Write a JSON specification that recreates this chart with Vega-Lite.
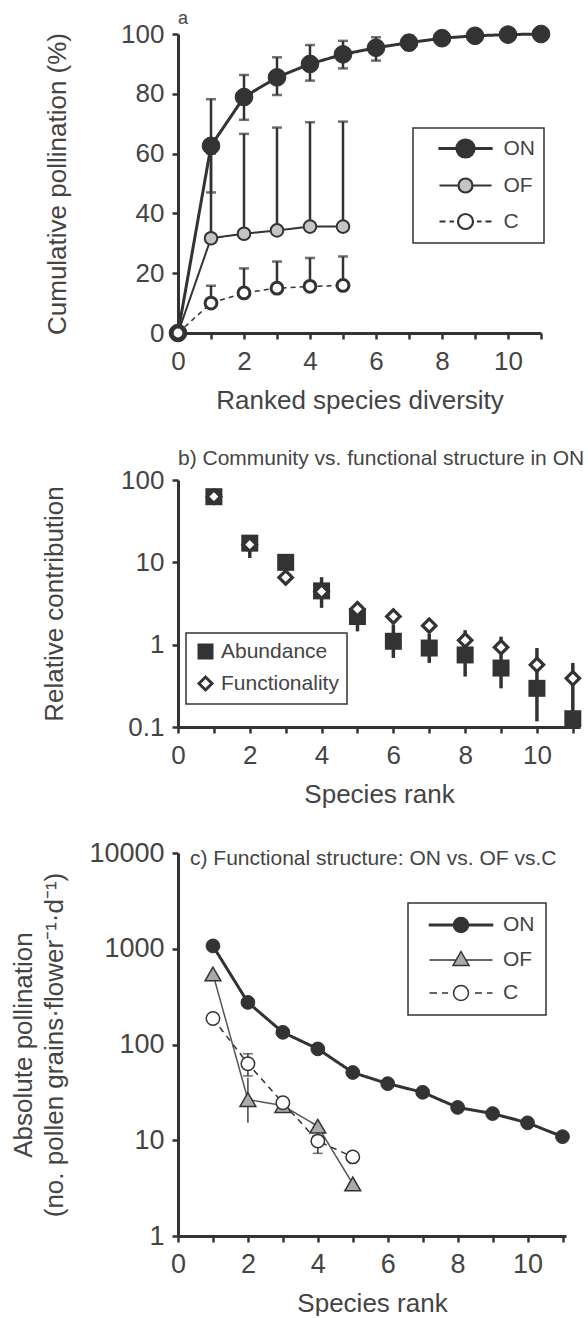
{
  "$schema": "https://vega.github.io/schema/vega-lite/v6.json",
  "padding": {"left": 10, "top": 10, "right": 0, "bottom": 0},
  "spacing": 32,
  "resolve": {"scale": {"fill": "independent", "shape": "independent"}, "legend": {"fill": "independent", "shape": "independent"}},
  "config": {
    "font": "Liberation Sans",
    "view": {"stroke": null},
    "axis": {"grid": false, "domainColor": "#333", "domainWidth": 3, "tickColor": "#333", "tickWidth": 2.5, "tickSize": 6, "labelColor": "#444", "titleColor": "#444", "labelFont": "Liberation Sans", "titleFont": "Liberation Sans", "titleFontWeight": "normal", "labelFontSize": 26, "titleFontSize": 26, "labelPadding": 8},
    "legend": {"labelFont": "Liberation Sans", "labelFontSize": 21, "labelColor": "#444", "strokeColor": "#333", "strokeWidth": 1.5, "fillColor": "white", "symbolOpacity": 1},
    "title": {"font": "Liberation Sans", "fontWeight": "normal", "color": "#444", "anchor": "start", "frame": "group", "baseline": "alphabetic"}
  },
  "vconcat": [
    {
      "width": 363,
      "height": 299,
      "title": {"text": "a", "fontSize": 18, "offset": -7},
      "data": {"values": [
        {"s": "ON", "x": 0, "v": 0},
        {"s": "ON", "x": 1, "v": 62.6, "lo": 47, "hi": 78.2},
        {"s": "ON", "x": 2, "v": 78.9, "lo": 71.3, "hi": 86.3},
        {"s": "ON", "x": 3, "v": 85.5, "lo": 79.6, "hi": 92.2},
        {"s": "ON", "x": 4, "v": 90, "lo": 84.4, "hi": 96.3},
        {"s": "ON", "x": 5, "v": 93.2, "lo": 88.5, "hi": 97.7},
        {"s": "ON", "x": 6, "v": 95.4, "lo": 91.1, "hi": 98.9},
        {"s": "ON", "x": 7, "v": 97.1, "lo": 94.7, "hi": 99.4},
        {"s": "ON", "x": 8, "v": 98.6, "lo": 97.4, "hi": 99.7},
        {"s": "ON", "x": 9, "v": 99.4},
        {"s": "ON", "x": 10, "v": 99.8},
        {"s": "ON", "x": 11, "v": 100},
        {"s": "OF", "x": 0, "v": 0},
        {"s": "OF", "x": 1, "v": 31.7, "lo": 31.7, "hi": 60},
        {"s": "OF", "x": 2, "v": 33.2, "lo": 33.2, "hi": 66.6},
        {"s": "OF", "x": 3, "v": 34.3, "lo": 34.3, "hi": 68.7},
        {"s": "OF", "x": 4, "v": 35.6, "lo": 35.6, "hi": 70.5},
        {"s": "OF", "x": 5, "v": 35.6, "lo": 35.6, "hi": 70.7},
        {"s": "C", "x": 0, "v": 0},
        {"s": "C", "x": 1, "v": 10, "lo": 10, "hi": 15.8},
        {"s": "C", "x": 2, "v": 13.4, "lo": 13.4, "hi": 21.6},
        {"s": "C", "x": 3, "v": 15, "lo": 15, "hi": 23.9},
        {"s": "C", "x": 4, "v": 15.6, "lo": 15.6, "hi": 25.1},
        {"s": "C", "x": 5, "v": 15.9, "lo": 15.9, "hi": 25.6}
      ]},
      "encoding": {
        "x": {"field": "x", "type": "quantitative", "scale": {"domain": [0, 11], "nice": false, "zero": false},
          "axis": {"title": ["Ranked species diversity", ""], "titleLineHeight": 3, "values": [0, 1, 2, 3, 4, 5, 6, 7, 8, 9, 10, 11], "format": "d", "labelExpr": "datum.value % 2 === 0 ? datum.label : ''", "labelFlush": false, "labelPadding": 9, "titlePadding": 13}}
      },
      "layer": [
        {
          "mark": {"type": "line", "color": "#333"},
          "encoding": {
            "y": {"field": "v", "type": "quantitative", "title": "Cumulative pollination (%)", "scale": {"domain": [0, 100], "nice": false},
              "axis": {"values": [0, 20, 40, 60, 80, 100], "titlePadding": 50}},
            "detail": {"field": "s"},
            "strokeWidth": {"condition": [{"test": "datum.s === 'ON'", "value": 3}, {"test": "datum.s === 'OF'", "value": 2}], "value": 1.5},
            "strokeDash": {"condition": {"test": "datum.s === 'C'", "value": [5, 4]}, "value": [1, 0]}
          }
        },
        {
          "transform": [{"filter": "datum.hi != null"}],
          "mark": {"type": "errorbar", "color": "#333", "rule": {"strokeWidth": 2.5}, "ticks": {"size": 10, "thickness": 2.5}},
          "encoding": {
            "y": {"field": "lo", "type": "quantitative", "title": "Cumulative pollination (%)", "scale": {"domain": [0, 100], "nice": false}},
            "y2": {"field": "hi"}
          }
        },
        {
          "mark": {"type": "point", "shape": "circle", "filled": true, "stroke": "#333", "opacity": 1},
          "encoding": {
            "y": {"field": "v", "type": "quantitative", "title": "Cumulative pollination (%)", "scale": {"domain": [0, 100], "nice": false}},
            "fill": {"condition": [{"test": "datum.s === 'ON'", "value": "#333333"}, {"test": "datum.s === 'OF'", "value": "#c4c4c4"}], "value": "#ffffff"},
            "size": {"condition": [{"test": "datum.s === 'ON'", "value": 314}, {"test": "datum.s === 'OF'", "value": 160}], "value": 140},
            "strokeWidth": {"condition": [{"test": "datum.s === 'ON'", "value": 1}, {"test": "datum.s === 'OF'", "value": 2}], "value": 3}
          }
        },
        {
          "transform": [{"filter": "datum.x === 0"}],
          "mark": {"type": "point", "filled": true, "opacity": 0, "stroke": "#333"},
          "encoding": {
            "y": {"field": "v", "type": "quantitative", "title": "Cumulative pollination (%)", "scale": {"domain": [0, 100], "nice": false}},
            "shape": {"field": "s", "type": "nominal",
              "scale": {"domain": ["ON", "OF", "C"], "range": [
                "M-2.6,-0.05H-0.9V0.05H-2.6ZM0.9,-0.05H2.6V0.05H0.9ZM-0.9,0A0.9,0.9,0,1,1,0.9,0A0.9,0.9,0,1,1,-0.9,0Z",
                "M-2.6,0H-0.7M0.7,0H2.6M-0.7,0A0.7,0.7,0,1,1,0.7,0A0.7,0.7,0,1,1,-0.7,0Z",
                "M-2.6,0H-2.0M-1.6,0H-1.15M1.15,0H1.6M2.0,0H2.6M-0.75,0A0.75,0.75,0,1,1,0.75,0A0.75,0.75,0,1,1,-0.75,0Z"]},
              "legend": {"orient": "none", "legendX": 235, "legendY": 94, "title": null, "padding": 9, "symbolOffset": 32, "labelOffset": 26.5, "rowPadding": 12, "symbolSize": 400, "symbolStrokeWidth": 2.2}},
            "fill": {"field": "s", "type": "nominal", "scale": {"domain": ["ON", "OF", "C"], "range": ["#333333", "#c4c4c4", "#ffffff"]},
              "legend": {"orient": "none", "legendX": 235, "legendY": 94, "title": null, "padding": 9, "symbolOffset": 32, "labelOffset": 26.5, "rowPadding": 12, "symbolSize": 400, "symbolStrokeWidth": 2.2}}
          }
        }
      ]
    },
    {
      "width": 402,
      "height": 247,
      "title": {"text": "b) Community vs. functional structure in ON", "fontSize": 21, "offset": -2},
      "data": {"values": [
        {"x": 1, "m": "Abundance", "v": 62.7},
        {"x": 2, "m": "Abundance", "v": 17.1, "lo": 11.3, "hi": 21},
        {"x": 3, "m": "Abundance", "v": 10.0},
        {"x": 4, "m": "Abundance", "v": 4.5, "lo": 2.8, "hi": 6.6},
        {"x": 5, "m": "Abundance", "v": 2.2, "lo": 1.45, "hi": 3.3},
        {"x": 6, "m": "Abundance", "v": 1.1, "lo": 0.69, "hi": 1.75},
        {"x": 7, "m": "Abundance", "v": 0.91, "lo": 0.6, "hi": 1.35},
        {"x": 8, "m": "Abundance", "v": 0.75, "lo": 0.41, "hi": 1.5},
        {"x": 9, "m": "Abundance", "v": 0.52, "lo": 0.295, "hi": 1.25},
        {"x": 10, "m": "Abundance", "v": 0.295, "lo": 0.117, "hi": 0.91},
        {"x": 11, "m": "Abundance", "v": 0.126, "lo": 0.1, "hi": 0.6},
        {"x": 1, "m": "Functionality", "v": 62.7},
        {"x": 2, "m": "Functionality", "v": 16.4},
        {"x": 3, "m": "Functionality", "v": 6.55},
        {"x": 4, "m": "Functionality", "v": 4.4},
        {"x": 5, "m": "Functionality", "v": 2.7},
        {"x": 6, "m": "Functionality", "v": 2.2},
        {"x": 7, "m": "Functionality", "v": 1.7},
        {"x": 8, "m": "Functionality", "v": 1.13},
        {"x": 9, "m": "Functionality", "v": 0.93},
        {"x": 10, "m": "Functionality", "v": 0.57},
        {"x": 11, "m": "Functionality", "v": 0.39}
      ]},
      "encoding": {
        "x": {"field": "x", "type": "quantitative", "scale": {"domain": [0, 11.2], "nice": false, "zero": false},
          "axis": {"title": "Species rank", "values": [0, 1, 2, 3, 4, 5, 6, 7, 8, 9, 10, 11], "format": "d", "labelExpr": "datum.value % 2 === 0 ? datum.label : ''", "labelFlush": false, "labelPadding": 9, "titlePadding": 13}}
      },
      "layer": [
        {
          "transform": [{"filter": "datum.hi != null"}],
          "mark": {"type": "rule", "color": "#333", "strokeWidth": 3.5},
          "encoding": {
            "y": {"field": "lo", "type": "quantitative", "title": "Relative contribution", "scale": {"type": "log", "domain": [0.1, 100], "nice": false},
              "axis": {"values": [0.1, 1, 10, 100], "labelExpr": "format(datum.value, '~g')", "titlePadding": 53}},
            "y2": {"field": "hi"}
          }
        },
        {
          "mark": {"type": "point", "filled": true, "stroke": "#333", "opacity": 1},
          "encoding": {
            "y": {"field": "v", "type": "quantitative", "title": "Relative contribution", "scale": {"type": "log", "domain": [0.1, 100], "nice": false}},
            "shape": {"condition": {"test": "datum.m === 'Abundance'", "value": "square"}, "value": "diamond"},
            "fill": {"condition": {"test": "datum.m === 'Abundance'", "value": "#333333"}, "value": "#ffffff"},
            "size": {"condition": {"test": "datum.m === 'Abundance'", "value": 289}, "value": 180},
            "strokeWidth": {"condition": {"test": "datum.m === 'Abundance'", "value": 0}, "value": 3.2}
          }
        },
        {
          "transform": [{"filter": "datum.x === 1"}],
          "mark": {"type": "point", "filled": true, "opacity": 0, "stroke": "#333"},
          "encoding": {
            "y": {"field": "v", "type": "quantitative", "title": "Relative contribution", "scale": {"type": "log", "domain": [0.1, 100], "nice": false}},
            "shape": {"field": "m", "type": "nominal", "scale": {"domain": ["Abundance", "Functionality"], "range": ["square", "diamond"]},
              "legend": {"orient": "none", "legendX": 8, "legendY": 153, "title": null, "padding": 8, "symbolOffset": 1, "labelOffset": 5, "rowPadding": 7, "symbolSize": 169, "symbolStrokeWidth": 3}},
            "fill": {"field": "m", "type": "nominal", "scale": {"domain": ["Abundance", "Functionality"], "range": ["#333333", "#ffffff"]},
              "legend": {"orient": "none", "legendX": 8, "legendY": 153, "title": null, "padding": 8, "symbolOffset": 1, "labelOffset": 5, "rowPadding": 7, "symbolSize": 169, "symbolStrokeWidth": 3}}
          }
        }
      ]
    },
    {
      "width": 388,
      "height": 383,
      "title": {"text": "c) Functional structure: ON vs. OF vs.C", "fontSize": 21, "offset": -30, "dx": 12},
      "data": {"values": [
        {"s": "ON", "x": 1, "v": 1070},
        {"s": "ON", "x": 2, "v": 275},
        {"s": "ON", "x": 3, "v": 134},
        {"s": "ON", "x": 4, "v": 90},
        {"s": "ON", "x": 5, "v": 51},
        {"s": "ON", "x": 6, "v": 39},
        {"s": "ON", "x": 7, "v": 31.7},
        {"s": "ON", "x": 8, "v": 22},
        {"s": "ON", "x": 9, "v": 19},
        {"s": "ON", "x": 10, "v": 15.2},
        {"s": "ON", "x": 11, "v": 10.9},
        {"s": "OF", "x": 1, "v": 545},
        {"s": "OF", "x": 2, "v": 26.6, "lo": 15.2, "hi": 45},
        {"s": "OF", "x": 3, "v": 23},
        {"s": "OF", "x": 4, "v": 14},
        {"s": "OF", "x": 5, "v": 3.5},
        {"s": "C", "x": 1, "v": 187},
        {"s": "C", "x": 2, "v": 63, "lo": 47, "hi": 80},
        {"s": "C", "x": 3, "v": 24.6},
        {"s": "C", "x": 4, "v": 9.8, "lo": 7.3, "hi": 13},
        {"s": "C", "x": 5, "v": 6.7}
      ]},
      "encoding": {
        "x": {"field": "x", "type": "quantitative", "scale": {"domain": [0, 11.1], "nice": false, "zero": false},
          "axis": {"title": "Species rank", "values": [0, 1, 2, 3, 4, 5, 6, 7, 8, 9, 10, 11], "format": "d", "labelExpr": "datum.value % 2 === 0 ? datum.label : ''", "labelFlush": false, "labelPadding": 9, "titlePadding": 13, "labelFontSize": 27}}
      },
      "layer": [
        {
          "mark": {"type": "line"},
          "encoding": {
            "y": {"field": "v", "type": "quantitative", "title": ["Absolute pollination", "(no. pollen grains·flower⁻¹·d⁻¹)"], "scale": {"type": "log", "domain": [1, 10000], "nice": false},
              "axis": {"values": [1, 10, 100, 1000, 10000], "labelExpr": "format(datum.value, 'd')", "labelFontSize": 27, "titlePadding": 21, "titleLineHeight": 31}},
            "detail": {"field": "s"},
            "stroke": {"condition": {"test": "datum.s === 'OF'", "value": "#555"}, "value": "#333"},
            "strokeWidth": {"condition": {"test": "datum.s === 'ON'", "value": 3}, "value": 1.5},
            "strokeDash": {"condition": {"test": "datum.s === 'C'", "value": [6, 5]}, "value": [1, 0]}
          }
        },
        {
          "transform": [{"filter": "datum.s === 'C' && datum.hi != null"}],
          "mark": {"type": "errorbar", "color": "#333", "rule": {"strokeWidth": 1.5}, "ticks": {"size": 10, "thickness": 1.5}},
          "encoding": {
            "y": {"field": "lo", "type": "quantitative", "title": ["Absolute pollination", "(no. pollen grains·flower⁻¹·d⁻¹)"], "scale": {"type": "log", "domain": [1, 10000], "nice": false}},
            "y2": {"field": "hi"}
          }
        },
        {
          "transform": [{"filter": "datum.s === 'OF' && datum.hi != null"}],
          "mark": {"type": "rule", "color": "#444", "strokeWidth": 1.5},
          "encoding": {
            "y": {"field": "lo", "type": "quantitative", "title": ["Absolute pollination", "(no. pollen grains·flower⁻¹·d⁻¹)"], "scale": {"type": "log", "domain": [1, 10000], "nice": false}},
            "y2": {"field": "hi"}
          }
        },
        {
          "mark": {"type": "point", "filled": true, "stroke": "#333", "opacity": 1},
          "encoding": {
            "y": {"field": "v", "type": "quantitative", "title": ["Absolute pollination", "(no. pollen grains·flower⁻¹·d⁻¹)"], "scale": {"type": "log", "domain": [1, 10000], "nice": false}},
            "shape": {"condition": {"test": "datum.s === 'OF'", "value": "triangle-up"}, "value": "circle"},
            "fill": {"condition": [{"test": "datum.s === 'ON'", "value": "#333333"}, {"test": "datum.s === 'OF'", "value": "#aaaaaa"}], "value": "#ffffff"},
            "size": {"condition": [{"test": "datum.s === 'ON'", "value": 190}, {"test": "datum.s === 'OF'", "value": 250}], "value": 180},
            "strokeWidth": {"condition": {"test": "datum.s === 'ON'", "value": 1}, "value": 1.5}
          }
        },
        {
          "transform": [{"filter": "datum.x === 1"}],
          "mark": {"type": "point", "filled": true, "opacity": 0, "stroke": "#333"},
          "encoding": {
            "y": {"field": "v", "type": "quantitative", "title": ["Absolute pollination", "(no. pollen grains·flower⁻¹·d⁻¹)"], "scale": {"type": "log", "domain": [1, 10000], "nice": false}},
            "shape": {"field": "s", "type": "nominal",
              "scale": {"domain": ["ON", "OF", "C"], "range": [
                "M-3.15,-0.08H-0.75V0.08H-3.15ZM0.75,-0.08H3.15V0.08H0.75ZM-0.75,0A0.75,0.75,0,1,1,0.75,0A0.75,0.75,0,1,1,-0.75,0Z",
                "M-3.15,0H-0.5M0.5,0H3.15M0,-0.85L0.8,0.55L-0.8,0.55Z",
                "M-3.15,0H-2.4M-1.9,0H-1.3M1.4,0H2.1M2.6,0H3.15M-0.75,0A0.75,0.75,0,1,1,0.75,0A0.75,0.75,0,1,1,-0.75,0Z"]},
              "legend": {"orient": "none", "legendX": 230, "legendY": 50, "title": null, "padding": 11, "symbolOffset": 31, "labelOffset": 31, "rowPadding": 12, "symbolSize": 400, "symbolStrokeWidth": 1.5}},
            "fill": {"field": "s", "type": "nominal", "scale": {"domain": ["ON", "OF", "C"], "range": ["#333333", "#aaaaaa", "#ffffff"]},
              "legend": {"orient": "none", "legendX": 230, "legendY": 50, "title": null, "padding": 11, "symbolOffset": 31, "labelOffset": 31, "rowPadding": 12, "symbolSize": 400, "symbolStrokeWidth": 1.5}}
          }
        }
      ]
    }
  ]
}
